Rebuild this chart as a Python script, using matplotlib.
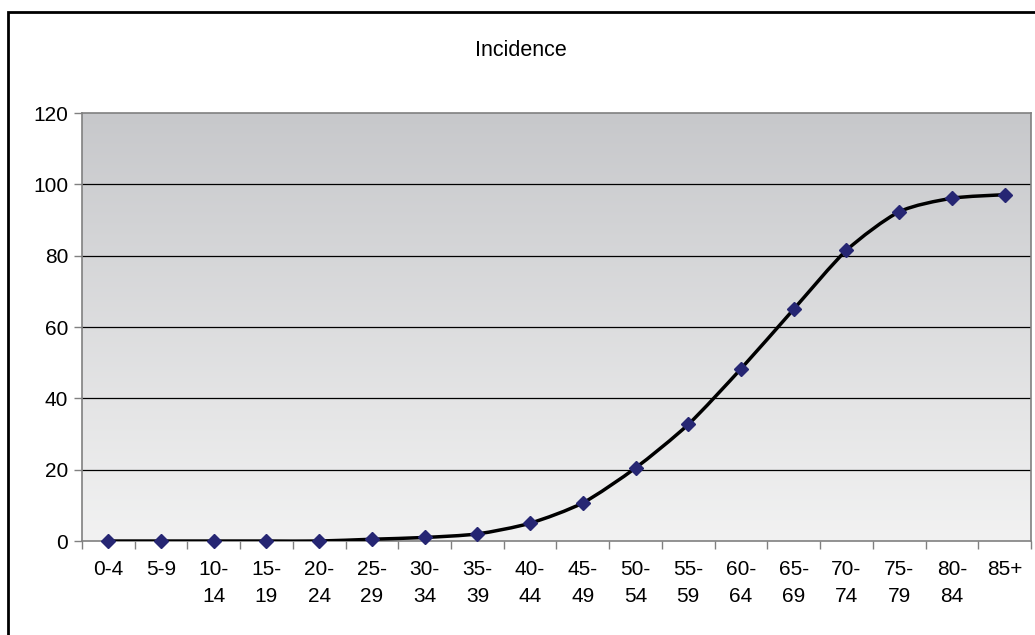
import numpy as np
import matplotlib
matplotlib.use("Agg")
import matplotlib.pyplot as plt
from matplotlib.path import Path
from matplotlib.patches import PathPatch, Rectangle

plt.rcParams['font.family'] = ['Liberation Sans', 'DejaVu Sans']

# age groups and incidence values
age_groups = ["0-4", "5-9", "10-\n14", "15-\n19", "20-\n24", "25-\n29", "30-\n34",
              "35-\n39", "40-\n44", "45-\n49", "50-\n54", "55-\n59", "60-\n64",
              "65-\n69", "70-\n74", "75-\n79", "80-\n84", "85+"]
incidence = [0, 0, 0, 0, 0, 0.5, 1.0, 2.0, 5.0, 10.7, 20.5, 32.7, 48.3,
             65.0, 81.5, 92.3, 96.1, 97.1]
y_ticks = [0, 20, 40, 60, 80, 100, 120]

fig = plt.figure(figsize=(10.35, 6.35), dpi=100)
ax = fig.add_axes([0.0792, 0.148, 0.9169, 0.674])

n = len(incidence)
x = np.arange(n)
y = np.array(incidence, dtype=float)

ax.set_xlim(-0.5, n - 0.5)
ax.set_ylim(0, 120)

# gray gradient fill of the plot area
grad = np.linspace(0, 1, 256).reshape(-1, 1)
cmap = matplotlib.colors.LinearSegmentedColormap.from_list(
    "bg", ["#f2f2f2", "#c7c8cb"])
ax.imshow(grad, aspect="auto", cmap=cmap, origin="lower",
          extent=(-0.5, n - 0.5, 0, 120), zorder=0)

for t in y_ticks[1:-1]:
    ax.axhline(t, color="black", lw=0.9, zorder=1)

# smoothed line (bezier segments through the points)
k = 1 / 8.0
verts = [(x[0], y[0])]
codes = [Path.MOVETO]
for i in range(n - 1):
    p0 = np.array([x[max(i - 1, 0)], y[max(i - 1, 0)]])
    p1 = np.array([x[i], y[i]])
    p2 = np.array([x[i + 1], y[i + 1]])
    p3 = np.array([x[min(i + 2, n - 1)], y[min(i + 2, n - 1)]])
    c1 = p1 + (p2 - p0) * k
    c2 = p2 - (p3 - p1) * k
    verts += [tuple(c1), tuple(c2), tuple(p2)]
    codes += [Path.CURVE4] * 3
ax.add_patch(PathPatch(Path(verts, codes), fill=False, edgecolor="black",
                       lw=2.5, zorder=3, capstyle="round", joinstyle="round"))

ax.plot(x, y, linestyle="none", marker="D", ms=7, color="#262673",
        markeredgecolor="#262673", zorder=4, clip_on=False)

ax.set_yticks(y_ticks)
ax.set_yticklabels([str(t) for t in y_ticks], fontsize=15)
ax.set_xticks(x)
ax.set_xticklabels(age_groups, fontsize=15, linespacing=1.5, va="top")
ax.set_xticks(np.arange(n + 1) - 0.5, minor=True)
ax.tick_params(axis="x", which="major", length=0, pad=14)
ax.tick_params(axis="x", which="minor", length=6, width=1, color="#808080")
ax.tick_params(axis="y", length=6, width=1, color="#808080", pad=4)

for side in ["left", "bottom", "top", "right"]:
    ax.spines[side].set_color("#808080")
    ax.spines[side].set_linewidth(1.2)
    ax.spines[side].set_zorder(2)

fig.text(521 / 1035, 1 - 50 / 635, "Incidence", ha="center", va="center",
         fontsize=15.5)

# outer chart border
fig.patches.append(Rectangle((8 / 1035, -0.02), 1.05, 1 - 12 / 635 + 0.02,
                             transform=fig.transFigure, fill=False,
                             edgecolor="black", lw=2))

fig.savefig("out.png", dpi=100)
